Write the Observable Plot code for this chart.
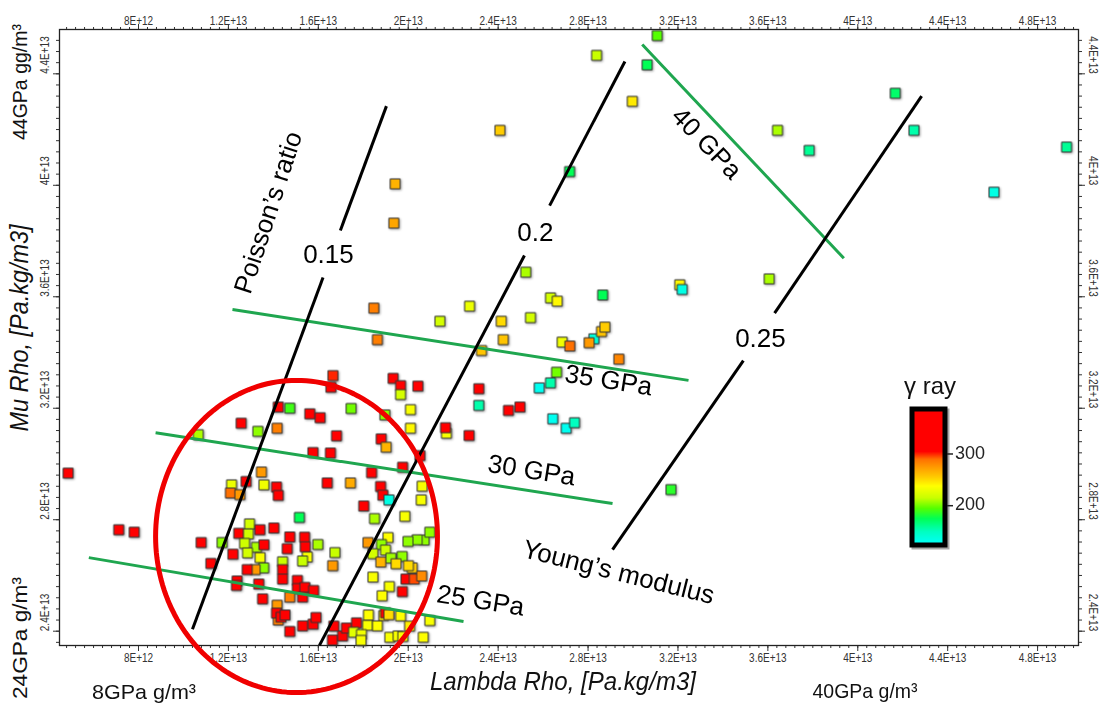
<!DOCTYPE html>
<html><head><meta charset="utf-8">
<script src="https://cdn.jsdelivr.net/npm/d3@7"></script>
<script src="https://cdn.jsdelivr.net/npm/@observablehq/plot@0.6"></script>
<style>
body{margin:0;background:#fff;}
#chart{position:relative;width:1099px;height:705px;}
</style></head><body><div id="chart"></div>
<script>
// ---- data (values in units of 1E+12 Pa.kg/m3) ----
const lambdaRho = [31.08,28.38,30.63,29.97,24.08,27.18,19.42,19.36,41.67,36.43,
42.50,37.84,49.29,46.06,36.06,18.47,25.23,22.73,21.41,24.14,
25.44,26.33,26.63,28.65,32.08,32.19,18.63,24.23,23.26,26.85,
28.26,27.19,28.05,28.60,28.75,29.37,26.60,26.33,25.83,19.33,
19.66,19.66,20.43,23.14,23.14,24.46,24.97,17.46,18.96,20.10,
20.10,26.43,27.03,27.40,21.70,21.66,22.71,18.80,19.02,16.65,
16.56,14.22,14.73,15.62,16.08,12.57,13.31,14.17,16.81,15.76,
16.54,20.52,19.75,18.37,10.66,13.47,12.79,12.14,12.09,12.51,
13.58,14.14,14.22,16.40,17.43,18.77,18.87,19.14,20.62,20.58,
18.02,18.50,19.85,15.16,12.94,13.40,14.02,10.79,11.72,12.46,
12.89,12.72,13.25,13.58,12.85,12.20,13.41,13.57,13.19,12.84,
11.22,14.73,14.62,15.39,15.42,15.51,15.30,15.98,16.74,16.64,
14.41,14.41,14.41,12.39,12.36,13.35,15.07,15.07,15.40,15.79,
14.73,15.30,13.52,14.22,14.17,14.14,14.34,14.52,14.73,15.30,
15.77,15.90,16.69,16.63,17.08,17.25,17.70,18.23,18.19,18.63,
17.57,17.92,17.90,18.91,18.99,19.14,19.66,20.06,19.18,19.55,
19.76,20.67,20.96,20.71,20.96,20.40,19.99,19.10,18.81,18.43,
18.21,18.99,19.23,19.73,19.46,18.78,20.18,20.01,19.90,20.27,
20.60,19.74,18.43,19.16,18.84,4.87,7.12,7.81,31.69];
const muRho = [45.37,44.66,44.32,43.01,41.97,40.49,40.05,38.64,43.30,41.97,
41.97,41.25,41.37,39.75,36.64,35.59,36.88,35.66,35.12,35.12,
35.25,35.96,35.84,36.06,36.43,36.26,34.46,34.46,34.07,34.37,
34.49,34.23,34.35,34.75,34.91,33.76,33.29,32.91,32.73,33.07,
32.81,32.49,32.79,32.70,32.10,31.92,32.04,31.99,31.76,31.95,
31.28,31.62,31.28,31.48,31.10,31.30,31.02,30.90,30.60,33.17,
32.75,32.04,32.00,31.80,31.66,31.46,31.17,31.28,31.01,30.41,
30.39,30.30,29.88,29.69,31.05,29.71,29.37,29.25,28.96,28.90,
29.25,29.17,28.87,29.32,29.32,29.19,28.88,28.71,29.20,28.71,
28.49,28.04,28.12,28.08,27.85,27.64,27.70,27.18,27.18,27.51,
27.49,27.15,27.01,27.10,26.81,26.76,26.64,26.27,26.21,26.21,
26.43,27.38,26.96,27.37,27.03,26.66,26.52,27.11,26.82,26.35,
26.49,26.21,25.87,25.80,25.64,25.69,25.82,25.53,25.57,25.46,
25.22,25.22,25.16,24.40,24.93,24.65,24.50,24.58,23.99,24.19,
24.25,24.49,24.18,23.68,23.83,24.11,24.30,24.58,24.21,24.19,
23.96,23.88,23.67,24.56,24.66,24.59,24.55,24.18,23.78,23.83,
23.81,23.78,24.38,27.27,27.55,27.28,27.22,27.36,27.11,26.78,
27.18,26.91,26.62,26.68,26.42,26.48,26.27,26.35,25.87,25.87,
25.98,25.42,25.94,25.60,25.27,29.67,27.64,27.55,29.08];
const gammaRay = [195,215,175,245,255,175,265,270,170,210,
155,160,160,135,210,285,210,230,220,250,
220,220,240,175,240,135,285,258,258,232,
140,290,275,258,255,282,200,155,130,330,
330,220,330,330,155,330,330,200,205,235,
240,130,130,150,235,330,330,330,265,300,
330,330,190,330,330,330,205,285,330,330,
330,330,330,330,210,275,330,230,290,275,
232,330,330,330,268,330,330,135,235,235,
330,210,235,175,220,330,330,330,205,330,
218,218,210,330,220,330,235,205,275,330,
330,330,330,330,330,235,215,210,215,275,
215,330,330,330,330,330,330,330,330,330,
285,330,330,285,275,330,330,330,330,330,
330,330,330,330,330,330,330,238,235,238,
225,232,235,245,330,250,238,245,235,235,
235,238,235,205,205,205,205,238,205,220,
275,218,208,205,250,265,255,250,330,295,
280,330,235,235,238,330,330,330,185];

// axis ticks
const xTickValues = [8,12,16,20,24,28,32,36,40,44,48];
const yTickValues = [24,28,32,36,40,44];
// gamma-ray colour ramp
const gammaStops  = [124,150,175,195,215,238,255,275,290,305,390];
const gammaColors = ["#00ffff","#00ffc0","#00ff55","#55ff00","#c8ff00","#ffff00","#ffcc00","#ff9900","#ff7000","#ff0000","#ff0000"];
const legendTicks = [200,300];

// Poisson's ratio lines (segments, data units)
const poissonX1 = [10.40,16.98,16.05,26.29,29.09,36.30];
const poissonY1 = [24.07,38.38,23.49,39.27,26.93,35.41];
const poissonX2 = [16.21,19.03,25.17,29.64,34.91,42.84];
const poissonY2 = [36.69,42.84,37.48,44.44,33.71,43.20];
const poissonLabels = ["0.15","0.2","0.25"];
const poissonLabelX = [16.45,25.66,35.67];
const poissonLabelY = [37.52,38.31,34.50];
// Young's modulus lines
const youngX1 = [5.79,8.76,12.18,30.41];
const youngY1 = [26.64,31.12,35.54,45.05];
const youngX2 = [22.46,29.09,32.47,39.38];
const youngY2 = [24.35,28.58,33.00,37.38];
const youngLabels = ["25 GPa","30 GPa","35 GPa"];
const youngLabelX = [23.22,25.49,28.91];
const youngLabelY = [25.10,29.77,33.00];
// highlighted zone (ellipse centre and radii)
const zoneCenter = [15.03,27.40];
const zoneRadii = [6.27,5.60];

const points = lambdaRho.map((l,i)=>({l, m: muRho[i], g: gammaRay[i]}));
const pSeg = poissonX1.map((d,i)=>({x1:d,y1:poissonY1[i],x2:poissonX2[i],y2:poissonY2[i]}));
const ySeg = youngX1.map((d,i)=>({x1:d,y1:youngY1[i],x2:youngX2[i],y2:youngY2[i]}));
const ellipse = d3.range(0,361,2).map(a=>({x: zoneCenter[0]+zoneRadii[0]*Math.cos(a*Math.PI/180), y: zoneCenter[1]+zoneRadii[1]*Math.sin(a*Math.PI/180)}));
const fmtE = v => (v*1e12).toExponential().toUpperCase();
const minorX = d3.range(4.8,49.7,0.4).map(v=>+v.toFixed(1));
const minorY = d3.range(23.6,45.6,0.4).map(v=>+v.toFixed(1));
const tickFont = "'Liberation Sans Narrow','Liberation Sans',Arial,sans-serif";
const labFont = "'Liberation Sans',Arial,sans-serif";

const plot = Plot.plot({
  width:1099, height:705,
  marginLeft:59, marginRight:21, marginTop:29, marginBottom:60,
  style:{background:"white", fontFamily:labFont, overflow:"visible"},
  x:{domain:[4.485,49.82], axis:null},
  y:{domain:[23.487,45.59], axis:null},
  color:{type:"linear", domain:gammaStops, range:gammaColors, interpolate:"rgb"},
  marks:[
    Plot.axisX(minorX,{anchor:"top", tickSize:3, tickFormat:()=>"", label:null, stroke:"#333"}),
    Plot.axisX(minorX,{anchor:"bottom", tickSize:3, tickFormat:()=>"", label:null, stroke:"#333"}),
    Plot.axisY(minorY,{anchor:"left", tickSize:3, tickFormat:()=>"", label:null, stroke:"#333"}),
    Plot.axisY(minorY,{anchor:"right", tickSize:3, tickFormat:()=>"", label:null, stroke:"#333"}),
    Plot.axisX(xTickValues,{anchor:"top", tickSize:6, tickFormat:()=>"", label:null, stroke:"#333"}),
    Plot.axisX(xTickValues,{anchor:"bottom", tickSize:6, tickFormat:()=>"", label:null, stroke:"#333"}),
    Plot.axisY(yTickValues,{anchor:"left", tickSize:6, tickFormat:()=>"", label:null, stroke:"#333"}),
    Plot.axisY(yTickValues,{anchor:"right", tickSize:6, tickFormat:()=>"", label:null, stroke:"#333"}),
    Plot.text(xTickValues,{x:d=>d, text:fmtE, frameAnchor:"top", dy:-13, fontSize:12.5, fontFamily:tickFont, fill:"#333"}),
    Plot.text(xTickValues,{x:d=>d, text:fmtE, frameAnchor:"bottom", dy:16, fontSize:12.5, fontFamily:tickFont, fill:"#333"}),
    Plot.text(yTickValues,{y:d=>d, text:fmtE, frameAnchor:"left", dx:-15, rotate:-90, fontSize:12.5, fontFamily:tickFont, fill:"#333"}),
    Plot.text(yTickValues,{y:d=>d, text:fmtE, frameAnchor:"right", dx:14, rotate:90, fontSize:12.5, fontFamily:tickFont, fill:"#333"}),
    Plot.frame({stroke:"#222", strokeWidth:1.3}),
    Plot.dot(points,{x:"l", y:"m", fill:"g", symbol:"square", r:5.6, stroke:"#333", strokeWidth:1}),
    Plot.link(ySeg,{x1:"x1",y1:"y1",x2:"x2",y2:"y2", stroke:"#1fa64f", strokeWidth:3}),
    Plot.link(pSeg,{x1:"x1",y1:"y1",x2:"x2",y2:"y2", stroke:"#000", strokeWidth:3}),
    Plot.line(ellipse,{x:"x", y:"y", stroke:"#f00000", strokeWidth:5}),
    Plot.text(poissonLabels,{x:(d,i)=>poissonLabelX[i], y:(d,i)=>poissonLabelY[i], text:d=>d, fontSize:26, fill:"#000"}),
    Plot.text(youngLabels,{x:(d,i)=>youngLabelX[i], y:(d,i)=>youngLabelY[i], text:d=>d, rotate:9, fontSize:26, fill:"#000"}),
    Plot.text(["40 GPa"],{x:[33.27], y:[41.50], text:d=>d, rotate:46, fontSize:26, fill:"#000"}),
    Plot.text(["Young’s modulus"],{x:[29.36], y:[26.11], text:d=>d, rotate:14, fontSize:26, fill:"#000"}),
    Plot.text(["Poisson’s ratio"],{x:[13.78], y:[39.02], text:d=>d, rotate:-72, fontSize:26, fill:"#000"})
  ]
});
document.getElementById("chart").appendChild(plot);

const svg = d3.select(plot);
svg.selectAll('g[aria-label="dot"]').style("filter","drop-shadow(1px 1px 0.8px rgba(0,0,0,0.35))");
// condensed look for the tick labels
svg.selectAll('g[aria-label="text"]').filter(function(){ return (this.getAttribute("font-family")||"").includes("Narrow"); })
  .selectAll("text").each(function(){
    const len = this.getComputedTextLength();
    this.setAttribute("textLength", (len*0.8).toFixed(1));
    this.setAttribute("lengthAdjust","spacingAndGlyphs");
  });

// axis titles
const T = (x,y,txt,opt={}) => {
  const t = svg.append("text").attr("x",0).attr("y",0)
   .attr("transform",`translate(${x},${y}) rotate(${opt.rot||0})`)
   .attr("text-anchor","middle").attr("dominant-baseline","middle")
   .attr("font-family",labFont).attr("font-size",opt.size||18)
   .attr("font-style",opt.italic?"italic":"normal").attr("fill","#111");
  t.text(txt);
  if (opt.len) t.attr("textLength",opt.len).attr("lengthAdjust","spacingAndGlyphs");
  return t;
};
T(563,683,"Lambda Rho, [Pa.kg/m3]",{italic:true,size:25,len:266});
T(144,693,"8GPa g/m³",{size:21,len:104});
T(865,692,"40GPa g/m³",{size:21,len:105});
T(21,328,"Mu Rho, [Pa.kg/m3]",{italic:true,size:25,rot:-90,len:207});
T(21,82,"44GPa gg/m³",{size:21,rot:-90,len:116});
T(21,638,"24GPa g/m³",{size:21,rot:-90,len:122});

// gamma-ray legend
const lg = svg.append("g");
const lgTop=409, lgBot=545, lgX=912, lgW=33, lgMin=124, lgMax=387;
const ly = v => lgBot - (v-lgMin)/(lgMax-lgMin)*(lgBot-lgTop);
const grad = svg.append("defs").append("linearGradient").attr("id","gr").attr("x1",0).attr("x2",0).attr("y1",0).attr("y2",1);
gammaStops.map((v,i)=>({o: Math.max(0,Math.min(1,(lgMax-v)/(lgMax-lgMin))), c: gammaColors[i]}))
  .sort((a,b)=>a.o-b.o)
  .forEach(s=>grad.append("stop").attr("offset",s.o).attr("stop-color",s.c));
lg.append("rect").attr("x",lgX+2).attr("y",lgTop+2).attr("width",lgW).attr("height",lgBot-lgTop).attr("fill","none").attr("stroke","rgba(0,0,0,0.35)").attr("stroke-width",5);
lg.append("rect").attr("x",lgX).attr("y",lgTop).attr("width",lgW).attr("height",lgBot-lgTop).attr("fill","url(#gr)").attr("stroke","#000").attr("stroke-width",5);
legendTicks.forEach(v=>{
  lg.append("line").attr("x1",lgX+lgW+2).attr("x2",lgX+lgW+8).attr("y1",ly(v)).attr("y2",ly(v)).attr("stroke","#222").attr("stroke-width",1.5);
  lg.append("text").attr("x",lgX+lgW+10).attr("y",ly(v)).attr("text-anchor","start").attr("dominant-baseline","middle").attr("font-family",labFont).attr("font-size",18).attr("fill","#222").text(v);
});
lg.append("text").attr("x",930).attr("y",388).attr("text-anchor","middle").attr("dominant-baseline","middle").attr("font-family",labFont).attr("font-size",24).attr("fill","#111").text("γ ray");
</script></body></html>
